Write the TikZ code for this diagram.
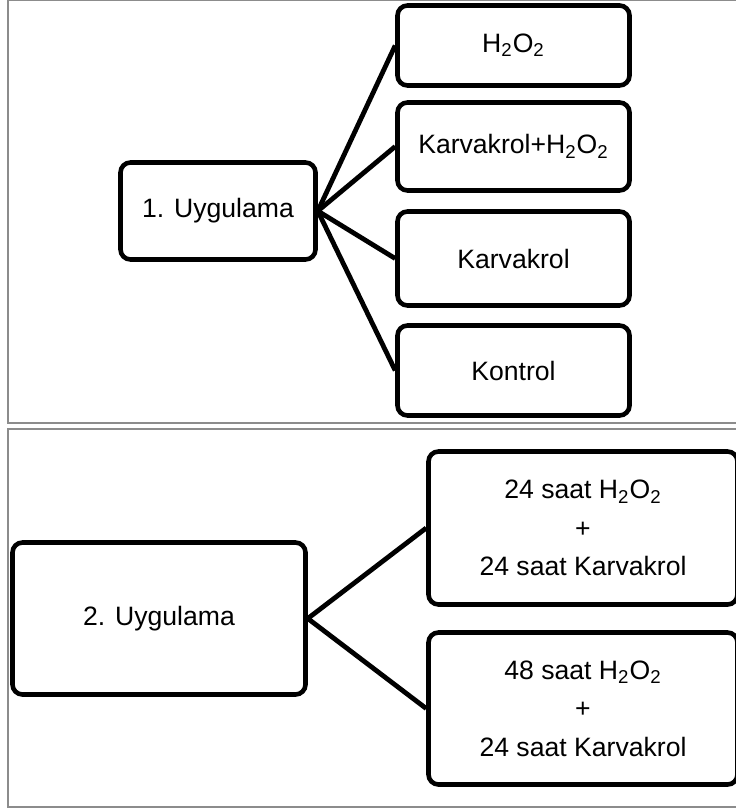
\documentclass[tikz,border=0pt]{standalone}
\usepackage{fontspec}
\setmainfont{Liberation Sans}
\tikzset{rbox/.style = {draw, line width=2.3pt, rounded corners=5pt, align=center, inner sep=0, font=\fontsize{13.3}{19.2}\selectfont}}
\tikzset{panel/.style = {draw=mgray, line width=0.8pt}}
\tikzset{link/.style = {line width=2.4pt}}
\definecolor{mgray}{rgb}{0.55, 0.55, 0.55}
\newcommand{\hoo}{H\textsubscript{2}O\textsubscript{2}}

\begin{document}
\begin{tikzpicture}[x=0.5pt, y=-0.5pt]
      \useasboundingbox (0,0) rectangle (735,812);
      \draw [panel] (8,0.5) rectangle (760,423);
      \draw [panel] (8,429) rectangle (760,807);
      % first panel
      \node [rbox, minimum width=97.5pt, minimum height=48.5pt] (u1) at (218,211) {1. Uygulama};
      \foreach \y/\h/\t [count=\i] in {45.5/40/\hoo, 146.5/44/Karvakrol+\hoo, 258.5/47/Karvakrol, 370.5/45/Kontrol} {
        \node [rbox, minimum width=116pt, minimum height=\h pt] (a\i) at (513.5,\y) {\t};
        \draw [link] (u1.east) -- (a\i.west);
      }
      % second panel
      \node [rbox, minimum width=146.5pt, minimum height=76pt] (u2) at (159,618.5) {2. Uygulama};
      \node [rbox, minimum width=154.5pt, minimum height=76.5pt] (b1) at (583,528) {24 saat \hoo\\+\\24 saat Karvakrol};
      \node [rbox, minimum width=154.5pt, minimum height=76pt] (b2) at (583,708.5) {48 saat \hoo\\+\\24 saat Karvakrol};
      \draw [link] (u2.east) -- (b1.west);
      \draw [link] (u2.east) -- (b2.west);
    \end{tikzpicture}
\end{document}
